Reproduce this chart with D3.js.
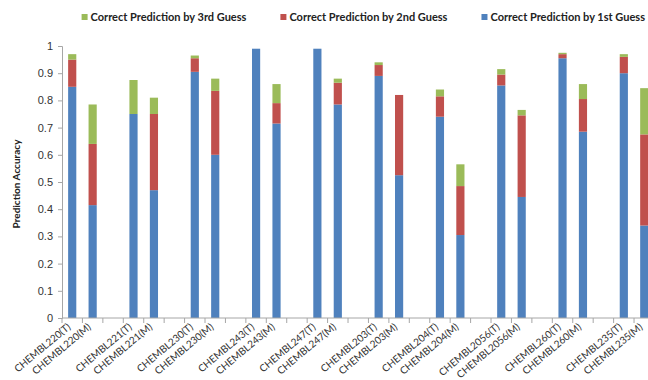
<!DOCTYPE html>
<html>
<head>
<meta charset="utf-8">
<script src="https://cdn.jsdelivr.net/npm/d3@7"></script>
<style>
  html, body { margin: 0; padding: 0; background: #fff; }
  svg { display: block; font-family: Lato, "Open Sans", sans-serif; }
</style>
</head>
<body>
<svg id="chart" width="648" height="380"></svg>
<script>
// Targets, each evaluated on (T) and (M) sets
const categories = [
  "CHEMBL220(T)", "CHEMBL220(M)", "CHEMBL221(T)", "CHEMBL221(M)",
  "CHEMBL230(T)", "CHEMBL230(M)", "CHEMBL243(T)", "CHEMBL243(M)",
  "CHEMBL247(T)", "CHEMBL247(M)", "CHEMBL203(T)", "CHEMBL203(M)",
  "CHEMBL204(T)", "CHEMBL204(M)", "CHEMBL2056(T)", "CHEMBL2056(M)",
  "CHEMBL260(T)", "CHEMBL260(M)", "CHEMBL235(T)", "CHEMBL235(M)"
];
// Share of correct predictions added by each guess (stacked)
const firstGuess = [0.85, 0.415, 0.75, 0.47, 0.905, 0.60, 0.99, 0.715, 0.99, 0.785,
                    0.89, 0.525, 0.74, 0.305, 0.855, 0.445, 0.955, 0.685, 0.90, 0.34];
const secondGuess = [0.10, 0.225, 0.00, 0.28, 0.05, 0.235, 0.00, 0.075, 0.00, 0.08,
                     0.04, 0.295, 0.075, 0.18, 0.04, 0.30, 0.015, 0.12, 0.06, 0.335];
const thirdGuess = [0.02, 0.145, 0.125, 0.06, 0.01, 0.045, 0.00, 0.07, 0.00, 0.015,
                    0.01, 0.00, 0.025, 0.08, 0.02, 0.02, 0.005, 0.055, 0.01, 0.17];
const yTicks = [0, 0.1, 0.2, 0.3, 0.4, 0.5, 0.6, 0.7, 0.8, 0.9, 1];

const seriesNames = ["Correct Prediction by 1st Guess", "Correct Prediction by 2nd Guess", "Correct Prediction by 3rd Guess"];
const seriesColors = ["#4f81bd", "#c0504d", "#9bbb59"];
const legendOrder = [2, 1, 0];

const svg = d3.select("#chart");
const margin = { left: 62, top: 46, bottom: 318 };
const slotsPerTarget = 3;            // T, M and a blank spacer
const nSlots = categories.length / 2 * slotsPerTarget;
const slotW = 20.43;

// Each category sits in its own slot; every third slot is left empty
const slotOf = i => Math.floor(i / 2) * slotsPerTarget + (i % 2);
const x = d3.scaleBand()
  .domain(d3.range(nSlots))
  .range([margin.left, margin.left + nSlots * slotW])
  .paddingInner(0.6).paddingOuter(0.3);
const gapHalf = (x.step() - x.bandwidth()) / 2;
const y = d3.scaleLinear().domain([0, 1]).range([margin.bottom, margin.top]);

const rows = categories.map((c, i) => ({
  name: c, slot: slotOf(i),
  s0: firstGuess[i], s1: secondGuess[i], s2: thirdGuess[i]
}));
const stacked = d3.stack().keys(["s0", "s1", "s2"])(rows);

const axisColor = "#a6a6a6";

// Bars
svg.append("g").selectAll("g")
  .data(stacked)
  .join("g")
  .attr("fill", (d, i) => seriesColors[i])
  .selectAll("rect")
  .data(d => d.filter(p => p[1] - p[0] > 0))
  .join("rect")
  .attr("x", d => x(d.data.slot))
  .attr("width", x.bandwidth())
  .attr("y", d => y(d[1]))
  .attr("height", d => y(d[0]) - y(d[1]));

// Y axis
const yAxis = svg.append("g")
  .attr("transform", `translate(${margin.left},0)`)
  .call(d3.axisLeft(y).tickValues(yTicks).tickSize(4).tickPadding(5)
    .tickFormat(d => String(+d.toFixed(1))));
yAxis.select(".domain").attr("stroke", axisColor);
yAxis.selectAll(".tick line").attr("stroke", axisColor);
yAxis.selectAll(".tick text").attr("font-size", 11).attr("fill", "#333");

// X axis: tick marks at every slot boundary
const xAxisG = svg.append("g");
xAxisG.append("line")
  .attr("x1", margin.left).attr("x2", x(nSlots - 1) + x.bandwidth() + gapHalf)
  .attr("y1", margin.bottom).attr("y2", margin.bottom)
  .attr("stroke", axisColor);
xAxisG.selectAll("line.tk")
  .data(d3.range(nSlots))
  .join("line").attr("class", "tk")
  .attr("x1", d => x(d) - gapHalf).attr("x2", d => x(d) - gapHalf)
  .attr("y1", margin.bottom).attr("y2", margin.bottom + 5)
  .attr("stroke", axisColor);

// Category labels, rotated
xAxisG.selectAll("text")
  .data(rows)
  .join("text")
  .attr("transform", d => `translate(${x(d.slot) + x.bandwidth() / 2 - 1},${margin.bottom + 10}) rotate(-40)`)
  .attr("text-anchor", "end")
  .attr("font-size", 10)
  .attr("fill", "#333")
  .text(d => d.name);

// Y axis title
svg.append("text")
  .attr("transform", `translate(20,${(margin.top + margin.bottom) / 2 + 2}) rotate(-90)`)
  .attr("text-anchor", "middle")
  .attr("font-size", 10)
  .attr("font-weight", "bold")
  .attr("fill", "#222")
  .text("Prediction Accuracy");

// Legend, laid out right to left so the last entry ends near the right edge
const lg = svg.append("g");
const items = lg.selectAll("g")
  .data(legendOrder)
  .join("g");
items.append("rect").attr("x", 0).attr("y", -3).attr("width", 6).attr("height", 6)
  .attr("fill", d => seriesColors[d]);
items.append("text").attr("x", 9).attr("y", 0).attr("dy", "0.35em")
  .attr("font-size", 11).attr("font-weight", "bold").attr("fill", "#222")
  .text(d => seriesNames[d]);
let cursor = 645;
const positions = [];
items.nodes().reverse().forEach(node => {
  const w = 9 + d3.select(node).select("text").node().getComputedTextLength();
  cursor -= w;
  positions.unshift(cursor);
  cursor -= 34;
});
items.attr("transform", (d, k) => `translate(${positions[k]},17)`);
</script>
</body>
</html>
